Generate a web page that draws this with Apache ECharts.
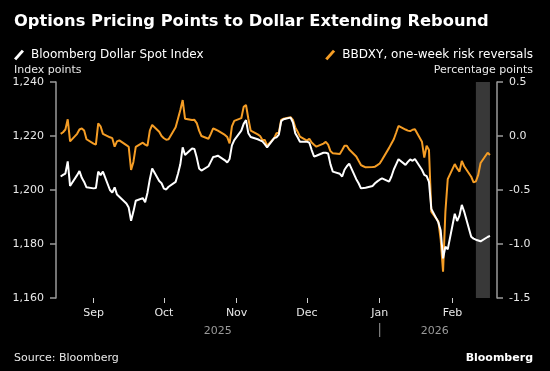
<!DOCTYPE html>
<html><head><meta charset="utf-8">
<script src="https://cdn.jsdelivr.net/npm/echarts@6/dist/echarts.min.js"></script>
<style>html,body{margin:0;padding:0;background:#000}#c{width:550px;height:371px}</style>
</head><body><div id="c"></div>
<script>
const titleText = 'Options Pricing Points to Dollar Extending Rebound';
const seriesNames = ['Bloomberg Dollar Spot Index', 'BBDXY, one-week risk reversals'];
const leftAxisName = 'Index points';
const rightAxisName = 'Percentage points';
const sourceText = 'Source: Bloomberg';
const brandText = 'Bloomberg';
const axisStart = '2025-08-16', axisEnd = '2026-02-20';
const dataStart = '2025-08-18', dataEnd = '2026-02-17';
const highlightRange = ['2026-02-11', '2026-02-17'];
const monthNames = ['Jan','Feb','Mar','Apr','May','Jun','Jul','Aug','Sep','Oct','Nov','Dec'];
const yearLabels = ['2025', '2026'];
const leftTicks = {min: 1160, max: 1240, interval: 20};
const rightTicks = {min: -1.5, max: 0.5, interval: 0.5};

// Bloomberg Dollar Spot Index, business days (week by week)
const dollarIndex = [
  1205, 1205.6, 1206.1, 1210.6, 1201.5,
  1205.5, 1207, 1204.5, 1203, 1201,
  1200.6, 1200.7, 1206.8, 1205.5, 1206.8,
  1200, 1199, 1201, 1198.3, 1197.5,
  1195, 1193.5, 1188.6, 1192, 1196,
  1197, 1195.5, 1199, 1204, 1208,
  1203.3, 1202.5, 1200.5, 1200.2, 1201.2,
  1203, 1206, 1209.5, 1215.8, 1213,
  1215.4, 1215.2, 1212, 1208, 1207.2,
  1208.8, 1210.5, 1212.2, 1212.4, 1212.7,
  1211, 1210.2, 1211.5, 1216.5, 1218.5,
  1222, 1224.5, 1225.9, 1221, 1219.6,
  1218.8, 1218.4, 1218, 1217, 1215.8,
  1219.2, 1219.5, 1220.5, 1225.5, 1226.2,
  1226.8, 1225, 1221, 1219.5, 1217.9,
  1217.9, 1217.5, 1214.8, 1212.4, 1212.7,
  1213.8, 1213.8, 1213.5, 1209.5, 1206.8,
  1206, 1205, 1207.5, 1208.8, 1209.8,
  1204, 1202.5, 1200.6, 1200.7, 1200.8,
  1201.5, 1202.5, 1203.2, 1203.8, 1204.3,
  1203.1, 1205, 1207.6, 1209.5, 1211.4,
  1209.3, 1210.4, 1211.3, 1210.8, 1211.5,
  1207.5, 1205.6, 1205.1, 1203, 1193,
  1188, 1185, 1174.7, 1179, 1178,
  1191.2, 1188.5, 1190.5, 1194.5, 1192,
  1182.7, 1182, 1181.6, 1181.3, 1181,
  1182.6, 1183
];
// BBDXY one-week risk reversals, business days
const riskReversal = [
  0.02, 0.035, 0.06, 0.155, -0.05,
  0.02, 0.06, 0.07, 0.05, -0.03,
  -0.07, -0.08, 0.117, 0.09, 0.02,
  -0.012, -0.02, -0.099, -0.05, -0.04,
  -0.085, -0.1, -0.315, -0.24, -0.1,
  -0.062, -0.08, -0.09, 0.05, 0.102,
  0.04, 0.0, -0.021, -0.035, -0.031,
  0.08, 0.16, 0.24, 0.333, 0.16,
  0.148, 0.15, 0.12, 0.05, 0.0,
  -0.025, 0.02, 0.07, 0.06, 0.05,
  0.01, -0.01, -0.068, 0.09, 0.14,
  0.165, 0.27, 0.287, 0.16, 0.05,
  0.015, 0.0, -0.037, -0.037, -0.09,
  -0.02, 0.025, 0.03, 0.15, 0.16,
  0.175, 0.15, 0.08, 0.04, -0.006,
  -0.043, -0.025, -0.06, -0.08, -0.099,
  -0.07, -0.055, -0.08, -0.14, -0.16,
  -0.167, -0.13, -0.09, -0.09, -0.125,
  -0.19, -0.23, -0.269, -0.28, -0.29,
  -0.286, -0.284, -0.27, -0.255, -0.22,
  -0.11, -0.07, -0.03, 0.03, 0.093,
  0.06, 0.05, 0.045, 0.058, 0.062,
  -0.053, -0.2, -0.09, -0.13, -0.70,
  -0.79, -0.96, -1.256, -0.7, -0.4,
  -0.26, -0.3, -0.33, -0.23, -0.28,
  -0.377, -0.43, -0.42, -0.36, -0.25,
  -0.155, -0.175
];

function fmt(d){ return d.toISOString().slice(0,10); }
function dayRange(a, b){
  const out = []; let d = new Date(a + 'T00:00:00Z'); const e = new Date(b + 'T00:00:00Z');
  while (d <= e) { out.push(fmt(d)); d = new Date(d.getTime() + 86400000); }
  return out;
}
const calendar = dayRange(axisStart, axisEnd);
const businessDays = dayRange(dataStart, dataEnd).filter(s => { const w = new Date(s + 'T00:00:00Z').getUTCDay(); return w !== 0 && w !== 6; });

const FONT = '"DejaVu Sans", Verdana, sans-serif';
const WHITE = '#ffffff', ORANGE = '#f59d25', AXIS = '#9a9a9a', LABEL = '#e8e8e8';
const isMonthStart = (i, v) => v.slice(8) === '01';
const slash = 'path://M0,9L7,1L9,2.5L2,10.5Z';

const chart = echarts.init(document.getElementById('c'), null, {renderer: 'canvas'});
chart.setOption({
  backgroundColor: '#000',
  animation: false,
  textStyle: {fontFamily: FONT},
  grid: {left: 56, right: 53, top: 82, bottom: 73, containLabel: false},
  legend: [
    {data: [seriesNames[0]], left: 9, top: 44, icon: slash, itemWidth: 10, itemHeight: 11, itemGap: 0,
     textStyle: {color: WHITE, fontSize: 12, fontFamily: FONT, padding: [0,0,0,2]}},
    {data: [seriesNames[1]], right: 12, top: 44, icon: slash, itemWidth: 10, itemHeight: 11, itemGap: 0,
     textStyle: {color: WHITE, fontSize: 12, fontFamily: FONT, padding: [0,0,0,2]}}
  ],
  xAxis: {
    type: 'category', data: calendar, boundaryGap: false,
    axisLine: {show: false, onZero: false},
    axisTick: {show: true, interval: isMonthStart, length: 5, lineStyle: {color: '#cfcfcf', width: 1}},
    axisLabel: {interval: isMonthStart, formatter: v => monthNames[+v.slice(5,7) - 1], color: LABEL, fontSize: 11, margin: 10, fontFamily: FONT},
    splitLine: {show: false}
  },
  yAxis: [
    {type: 'value', position: 'left', min: leftTicks.min, max: leftTicks.max, interval: leftTicks.interval,
     axisLine: {show: true, onZero: false, lineStyle: {color: AXIS, width: 1.5}},
     axisTick: {show: true, length: 6, lineStyle: {color: AXIS, width: 1.5}},
     axisLabel: {formatter: v => v.toLocaleString('en-US'), color: LABEL, fontSize: 11, margin: 12, fontFamily: FONT},
     splitLine: {show: false}},
    {type: 'value', position: 'right', min: rightTicks.min, max: rightTicks.max, interval: rightTicks.interval,
     axisLine: {show: true, onZero: false, lineStyle: {color: AXIS, width: 1.5}},
     axisTick: {show: true, length: 6, lineStyle: {color: AXIS, width: 1.5}},
     axisLabel: {formatter: v => v.toFixed(1), color: LABEL, fontSize: 11, margin: 12, fontFamily: FONT},
     splitLine: {show: false}}
  ],
  series: [
    {name: seriesNames[1], type: 'line', yAxisIndex: 1, color: ORANGE, showSymbol: false, symbol: 'none',
     lineStyle: {color: ORANGE, width: 2}, z: 3,
     data: businessDays.map((d, i) => [d, riskReversal[i]]),
     markArea: {silent: true, itemStyle: {color: '#383838'}, data: [[{xAxis: highlightRange[0]}, {xAxis: highlightRange[1]}]]}},
    {name: seriesNames[0], type: 'line', yAxisIndex: 0, color: WHITE, showSymbol: false, symbol: 'none',
     lineStyle: {color: WHITE, width: 2}, z: 4,
     data: businessDays.map((d, i) => [d, dollarIndex[i]])}
  ]
});

function px(date){ return chart.convertToPixel({xAxisIndex: 0}, date); }
const xStart = px(calendar[0]), xJan = px('2026-01-01'), xLast = px(businessDays[businessDays.length - 1]);
chart.setOption({
  graphic: [
    {type: 'text', x: 14, y: 22, style: {text: titleText, fill: WHITE, font: 'bold 16.3px ' + FONT, verticalAlign: 'middle'}},
    {type: 'text', x: 14, y: 70, style: {text: leftAxisName, fill: LABEL, font: '11px ' + FONT, verticalAlign: 'middle'}},
    {type: 'text', x: 533, y: 70, style: {text: rightAxisName, fill: LABEL, font: '11px ' + FONT, align: 'right', verticalAlign: 'middle'}},
    {type: 'text', x: (xStart + xJan) / 2, y: 331, style: {text: yearLabels[0], fill: '#9a9a9a', font: '11px ' + FONT, align: 'center', verticalAlign: 'middle'}},
    {type: 'text', x: (xJan + xLast) / 2, y: 331, style: {text: yearLabels[1], fill: '#9a9a9a', font: '11px ' + FONT, align: 'center', verticalAlign: 'middle'}},
    {type: 'line', shape: {x1: xJan, y1: 323, x2: xJan, y2: 337}, style: {stroke: '#9a9a9a', lineWidth: 1}},
    {type: 'text', x: 14, y: 358, style: {text: sourceText, fill: LABEL, font: '11px ' + FONT, verticalAlign: 'middle'}},
    {type: 'text', x: 533, y: 358, style: {text: brandText, fill: WHITE, font: 'bold 11px ' + FONT, align: 'right', verticalAlign: 'middle'}}
  ]
});
</script></body></html>
